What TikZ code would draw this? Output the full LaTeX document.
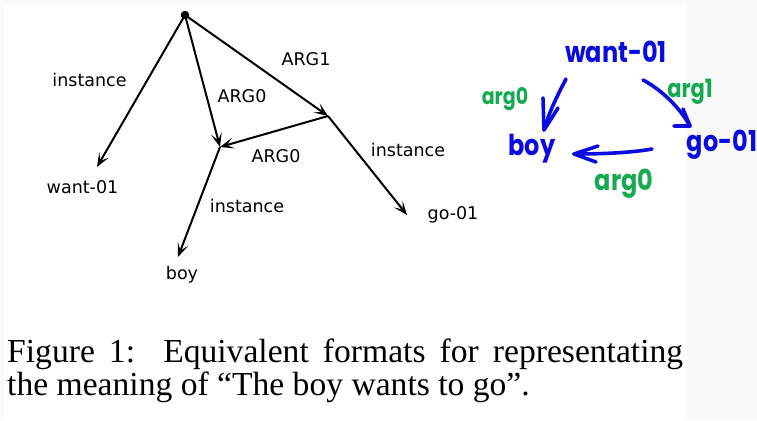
\documentclass[tikz,border=0pt]{standalone}
\usepackage{fontspec}
\setmainfont{Liberation Serif}
\newfontfamily\dejavu{DejaVu Sans}
\newfontfamily\handfont{Poppins}
\usetikzlibrary{arrows.meta}
\definecolor{bggray}{RGB}{250,250,250}
\definecolor{hblue}{RGB}{10,10,225}
\definecolor{hgreen}{RGB}{20,170,80}
\begin{document}
\begin{tikzpicture}[x=1pt,y=-1pt,
  edge/.style={line width=2pt,-{Stealth[length=14pt,width=11pt,inset=7pt]}},
  lbl/.style={font=\dejavu\fontsize{17.5}{20}\selectfont,anchor=base,inner sep=0pt},
  hand/.style={hblue,line width=3.6pt,line cap=round,line join=round},
  htext/.style={font=\handfont\bfseries\fontsize{24}{24}\selectfont,text=hblue,inner sep=0pt,yscale=1.2},
  gtext/.style={font=\handfont\bfseries\fontsize{21}{21}\selectfont,text=hgreen,inner sep=0pt,yscale=1.2}]
\fill[bggray] (0,0) rectangle (757,420);
\fill[white] (4,5) rectangle (686,420);
\useasboundingbox (0,0) rectangle (757,420);

% left AMR graph
\node[circle,fill=black,inner sep=0pt,minimum size=8.5pt] (root) at (185,15) {};
\coordinate (n0) at (220,147);
\coordinate (n1) at (328,116);
\coordinate (wantT) at (97,167);
\coordinate (boyT) at (178,257);
\coordinate (goT) at (407,215);
\draw[edge] (root.center) -- (wantT);
\draw[edge] (root.center) -- (n0);
\draw[edge] (root.center) -- (n1);
\draw[edge] (n1) -- (n0);
\draw[edge] (n0) -- (boyT);
\draw[edge] (n1) -- (goT);

\node[lbl] (l1) at (89.5,86) {instance};
\node[lbl] (want) at (82.5,193) {want-01};
\node[lbl] (l2) at (242,102) {ARG0};
\node[lbl] (l3) at (306,66) {ARG1};
\node[lbl] (l4) at (276,162) {ARG0};
\node[lbl] (l5) at (408,156) {instance};
\node[lbl] (l6) at (247,212) {instance};
\node[lbl] (boy) at (182,279) {boy};
\node[lbl] (go) at (453,219) {go-01};

% handwritten version
\node[htext] (hwant) at (616,52) {want-01};
\node[htext] (hboy) at (532,149) {boy};
\node[htext] (hgo) at (722,145) {go-01};
\node[gtext,font=\handfont\bfseries\fontsize{19}{19}\selectfont] (ga) at (505,99) {arg0};
\node[gtext] (gb) at (690,92) {arg1};
\node[gtext,font=\handfont\bfseries\fontsize{24}{24}\selectfont] (gc) at (624,184) {arg0};

\coordinate (la) at (566,79);
\coordinate (lt) at (544,130);
\coordinate (lb1) at (543,98);
\coordinate (lb2) at (558,108);
\draw[hand] (la) .. controls (556,98) and (548,115) .. (lt);
\draw[hand] (lb1) -- (lt) -- (lb2);

\coordinate (ra) at (643,80);
\coordinate (rt) at (690,126);
\coordinate (rb1) at (683,109);
\coordinate (rb2) at (674,126);
\draw[hand] (ra) .. controls (662,90) and (680,108) .. (rt);
\draw[hand] (rb1) -- (rt) -- (rb2);

\coordinate (ba) at (652,149);
\coordinate (bt) at (574,154);
\coordinate (bb1) at (598,146);
\coordinate (bb2) at (596,162);
\draw[hand] (ba) .. controls (630,153) and (600,154) .. (bt);
\draw[hand] (bb1) -- (bt) -- (bb2);

% caption
\node[anchor=north west,inner sep=0pt,text width=676pt,align=justify,
  font=\fontsize{33.6}{33}\selectfont] (cap) at (7,339)
  {Figure 1:\ \ Equivalent formats for representating\linebreak the meaning of “The boy wants to go”.};
\end{tikzpicture}
\end{document}
